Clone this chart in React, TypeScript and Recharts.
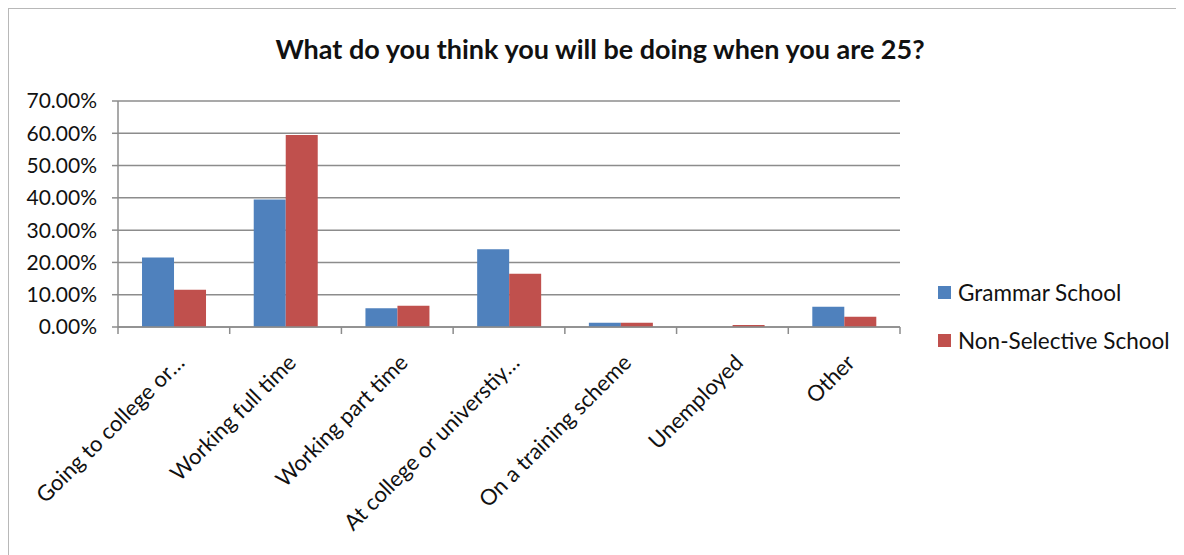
import { Bar, BarChart, CartesianGrid, Legend, XAxis, YAxis } from "recharts";

const categories = [
  "Going to college or…",
  "Working full time",
  "Working part time",
  "At college or universtiy…",
  "On a training scheme",
  "Unemployed",
  "Other",
];
const grammarSchool = [0.215, 0.395, 0.058, 0.241, 0.013, 0, 0.063];
const nonSelectiveSchool = [0.115, 0.595, 0.066, 0.165, 0.013, 0.006, 0.032];
const yTicks = [0, 0.1, 0.2, 0.3, 0.4, 0.5, 0.6, 0.7];
const seriesNames = ["Grammar School", "Non-Selective School"];
const title = "What do you think you will be doing when you are 25?";

const BLUE = "#4f81bd";
const RED = "#c0504d";
const AXIS = "#8c8c8c";
const FONT = "Lato, 'Noto Sans', sans-serif";

const data = categories.map((name, i) => ({
  name,
  grammar: grammarSchool[i],
  nonSelective: nonSelectiveSchool[i],
}));

// plot spans x 118..900 in page coords
const BAND = (900 - 118) / categories.length;

const XTick = (props: any) => {
  const { x, y, payload, index } = props;
  const half = BAND / 2;
  return (
    <g>
      <line x1={x - half} x2={x - half} y1={y} y2={y + 7} stroke={AXIS} strokeWidth={1.5} />
      {index === categories.length - 1 && (
        <line x1={x + half} x2={x + half} y1={y} y2={y + 7} stroke={AXIS} strokeWidth={1.5} />
      )}
      <text
        transform={`translate(${x + 12},${y + 37}) rotate(-45)`}
        textAnchor="end"
        fontFamily={FONT}
        fontSize={22}
        fill="#111"
      >
        {payload.value}
      </text>
    </g>
  );
};

const LegendBox = () => (
  <div style={{ fontFamily: FONT, fontSize: 22.5, color: "#111" }}>
    {seriesNames.map((s, i) => (
      <div key={s} style={{ display: "flex", alignItems: "center", height: 24, marginBottom: i === 0 ? 24 : 0 }}>
        <span
          style={{
            display: "inline-block",
            width: 13,
            height: 13,
            background: i === 0 ? BLUE : RED,
            marginRight: 7,
          }}
        />
        <span style={{ whiteSpace: "nowrap" }}>{s}</span>
      </div>
    ))}
  </div>
);

export default function App() {
  return (
    <div style={{ position: "relative", width: 1176, height: 547 }}>
      <div
        style={{
          position: "absolute",
          left: -1,
          top: -1,
          width: 1171,
          height: 560,
          border: "2px solid #b8b8b8",
          boxSizing: "border-box",
        }}
      />
      <div
        style={{
          position: "absolute",
          left: 583,
          top: -26,
          fontFamily: "'Liberation Serif', serif",
          fontWeight: "bold",
          fontSize: 20,
          lineHeight: "24px",
          color: "#111",
        }}
      >
        g
      </div>
      <div
        style={{
          position: "absolute",
          left: 0,
          width: 1184,
          top: 25,
          textAlign: "center",
          fontFamily: FONT,
          fontWeight: "bold",
          fontSize: 27,
          lineHeight: "32px",
          color: "#111",
        }}
      >
        {title}
      </div>
      <div style={{ position: "absolute", left: 0, top: 0 }}>
        <BarChart
          width={1176}
          height={547}
          data={data}
          margin={{ top: 93, left: 30, right: 284, bottom: 198 }}
          barCategoryGap="21.5%"
          barGap={0}
        >
          <CartesianGrid vertical={false} stroke={AXIS} strokeWidth={1.5} />
          <XAxis
            dataKey="name"
            height={30}
            interval={0}
            tick={<XTick />}
            tickLine={false}
            tickSize={0}
            tickMargin={0}
            axisLine={{ stroke: AXIS, strokeWidth: 1.5 }}
          />
          <YAxis
            width={80}
            domain={[0, 0.7]}
            ticks={yTicks}
            interval={0}
            tickFormatter={(v: number) => (v * 100).toFixed(2) + "%"}
            tick={{ fill: "#111", fontSize: 21, fontFamily: FONT }}
            tickSize={6}
            tickMargin={15}
            tickLine={{ stroke: AXIS, strokeWidth: 1.5 }}
            axisLine={{ stroke: AXIS, strokeWidth: 1.5 }}
          />
          <Legend
            layout="vertical"
            align="center"
            verticalAlign="middle"
            content={<LegendBox />}
            wrapperStyle={{ position: "absolute", left: 930, top: 272, width: 260 }}
          />
          <Bar dataKey="grammar" name={seriesNames[0]} fill={BLUE} isAnimationActive={false} />
          <Bar dataKey="nonSelective" name={seriesNames[1]} fill={RED} isAnimationActive={false} />
        </BarChart>
      </div>
    </div>
  );
}
